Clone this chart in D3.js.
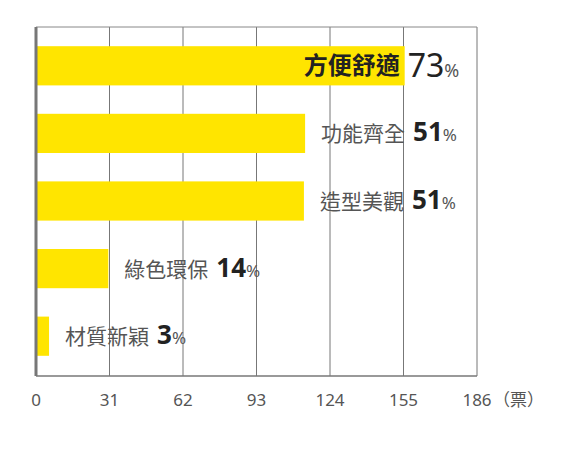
<!DOCTYPE html>
<html><head><meta charset="utf-8">
<script src="https://cdn.jsdelivr.net/npm/d3@7"></script>
<style>body{margin:0;background:#fff}</style>
</head><body>
<script>
var categories = ["方便舒適", "功能齊全", "造型美觀", "綠色環保", "材質新穎"];
var votes = [155.5, 113.5, 113, 30.5, 5.5];
var percents = ["73", "51", "51", "14", "3"];
var ticks = [0, 31, 62, 93, 124, 155, 186];

var svg = d3.select("body").append("svg").attr("width", 566).attr("height", 449);
var plotLeft = 36, plotRight = 477, plotTop = 27, plotBottom = 376;
var x = d3.scaleLinear().domain([0, 186]).range([plotLeft, plotRight]);
var y = d3.scaleBand().domain(categories).range([plotTop + 5, plotBottom - 6]).paddingInner(0.42).paddingOuter(0.21);

// grid
svg.selectAll(".grid").data(ticks.slice(1)).enter().append("line")
  .attr("x1", d => x(d)).attr("x2", d => x(d)).attr("y1", plotTop).attr("y2", plotBottom)
  .attr("stroke", "#777").attr("stroke-width", 1);
svg.append("line").attr("x1", plotLeft).attr("x2", plotRight).attr("y1", plotTop).attr("y2", plotTop).attr("stroke", "#888");
svg.append("line").attr("x1", plotLeft).attr("x2", plotRight).attr("y1", plotBottom).attr("y2", plotBottom).attr("stroke", "#777").attr("stroke-width", 1.5);

svg.selectAll(".bar").data(votes).enter().append("rect")
  .attr("x", plotLeft).attr("y", (d, i) => y(categories[i]))
  .attr("width", d => x(d) - plotLeft).attr("height", y.bandwidth())
  .attr("fill", "#ffe500");

svg.append("line").attr("x1", plotLeft).attr("x2", plotLeft).attr("y1", plotTop).attr("y2", plotBottom).attr("stroke", "#777").attr("stroke-width", 3);

var font = "'Noto Sans CJK TC', sans-serif";
votes.forEach(function (v, i) {
  var cy = y(categories[i]) + y.bandwidth() / 2 + 8;
  if (i === 0) {
    svg.append("text").attr("x", x(v) - 5).attr("y", cy).attr("text-anchor", "end")
      .attr("font-family", font).attr("font-size", 24).attr("font-weight", "bold").attr("fill", "#222")
      .text(categories[i]);
    var t = svg.append("text").attr("x", x(v) + 3).attr("y", cy + 3).attr("font-family", "'Noto Sans', sans-serif");
    t.append("tspan").attr("font-size", 32).attr("fill", "#222").text(percents[i]);
    t.append("tspan").attr("font-size", 18).attr("fill", "#555").text("%");
  } else {
    var t2 = svg.append("text").attr("x", x(v) + 16).attr("y", cy).attr("font-family", font);
    t2.append("tspan").attr("font-size", 21).attr("fill", "#555").text(categories[i]);
    t2.append("tspan").attr("dx", 8).attr("font-family", "'Noto Sans', sans-serif").attr("font-size", 26).attr("font-weight", "bold").attr("fill", "#222").text(percents[i]);
    t2.append("tspan").attr("font-family", "'Noto Sans', sans-serif").attr("font-size", 17).attr("fill", "#555").text("%");
  }
});

svg.selectAll(".tick").data(ticks).enter().append("text")
  .attr("x", d => x(d)).attr("y", 406).attr("text-anchor", "middle")
  .attr("font-family", "'Noto Sans', sans-serif").attr("font-size", 17).attr("fill", "#555")
  .text(d => d);
svg.append("text").attr("x", x(186) + 16).attr("y", 406)
  .attr("font-family", font).attr("font-size", 17).attr("fill", "#555").text("（票）");
</script>
</body></html>
